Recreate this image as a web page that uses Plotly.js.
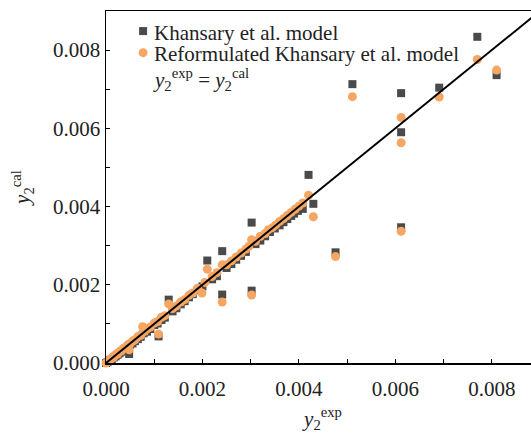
<!DOCTYPE html>
<html>
<head>
<meta charset="utf-8">
<script src="https://cdn.plot.ly/plotly-3.0.1.min.js"></script>
<style>
html, body { margin: 0; padding: 0; overflow: hidden; background: #fff; }
#chart { width: 540px; height: 442px; }
</style>
</head>
<body>
<div id="chart"></div>
<script>
// Khansary et al. model (squares): y2exp vs y2cal
const khansaryX = [
  0.00000, 0.00003, 0.00006, 0.00009, 0.00012, 0.00016, 0.00020, 0.00024, 0.00028, 0.00032,
  0.00036, 0.00040, 0.00045, 0.00048, 0.00050, 0.00055, 0.00060, 0.00066, 0.00072, 0.00078,
  0.00085, 0.00092, 0.00100, 0.00107, 0.00109, 0.00115, 0.00122, 0.00130, 0.00138, 0.00146,
  0.00155, 0.00163, 0.00172, 0.00180, 0.00190, 0.00200, 0.00210, 0.00220, 0.00230, 0.00241,
  0.00241, 0.00250, 0.00260, 0.00270, 0.00280, 0.00290, 0.00302, 0.00302, 0.00310, 0.00320,
  0.00330, 0.00340, 0.00350, 0.00360, 0.00368, 0.00376, 0.00384, 0.00390, 0.00398, 0.00408,
  0.00420, 0.00430, 0.00476, 0.00511, 0.00612, 0.00612, 0.00612, 0.00691, 0.00770, 0.00810
];
const khansaryY = [
  0.00000, 0.00002, 0.00005, 0.00008, 0.00010, 0.00014, 0.00017, 0.00021, 0.00025, 0.00029,
  0.00032, 0.00036, 0.00041, 0.00023, 0.00047, 0.00050, 0.00056, 0.00061, 0.00067, 0.00076,
  0.00080, 0.00087, 0.00097, 0.00101, 0.00068, 0.00110, 0.00116, 0.00162, 0.00132, 0.00140,
  0.00150, 0.00158, 0.00168, 0.00176, 0.00186, 0.00196, 0.00262, 0.00214, 0.00222, 0.00286,
  0.00175, 0.00243, 0.00253, 0.00264, 0.00274, 0.00284, 0.00359, 0.00185, 0.00304, 0.00313,
  0.00324, 0.00335, 0.00344, 0.00352, 0.00360, 0.00368, 0.00376, 0.00382, 0.00389, 0.00394,
  0.00481, 0.00407, 0.00283, 0.00713, 0.00690, 0.00590, 0.00347, 0.00704, 0.00834, 0.00736
];

// Reformulated Khansary et al. model (circles)
const reformX = [
  0.00000, 0.00003, 0.00006, 0.00009, 0.00012, 0.00016, 0.00020, 0.00024, 0.00028, 0.00032,
  0.00036, 0.00040, 0.00045, 0.00048, 0.00050, 0.00055, 0.00060, 0.00066, 0.00072, 0.00076,
  0.00080, 0.00086, 0.00092, 0.00100, 0.00107, 0.00109, 0.00115, 0.00122, 0.00130, 0.00138,
  0.00146, 0.00155, 0.00163, 0.00172, 0.00180, 0.00190, 0.00199, 0.00205, 0.00210, 0.00220,
  0.00230, 0.00241, 0.00241, 0.00250, 0.00260, 0.00270, 0.00280, 0.00290, 0.00296, 0.00302,
  0.00302, 0.00310, 0.00320, 0.00330, 0.00337, 0.00345, 0.00352, 0.00360, 0.00368, 0.00376,
  0.00384, 0.00392, 0.00400, 0.00408, 0.00420, 0.00430, 0.00476, 0.00511, 0.00612, 0.00612,
  0.00612, 0.00691, 0.00770, 0.00810
];
const reformY = [
  0.00000, 0.00003, 0.00005, 0.00010, 0.00012, 0.00015, 0.00021, 0.00023, 0.00029, 0.00031,
  0.00037, 0.00039, 0.00046, 0.00034, 0.00049, 0.00056, 0.00059, 0.00067, 0.00071, 0.00093,
  0.00081, 0.00088, 0.00092, 0.00102, 0.00106, 0.00074, 0.00117, 0.00121, 0.00151, 0.00139,
  0.00146, 0.00156, 0.00162, 0.00173, 0.00179, 0.00191, 0.00179, 0.00206, 0.00240, 0.00221,
  0.00231, 0.00251, 0.00156, 0.00251, 0.00261, 0.00271, 0.00281, 0.00291, 0.00298, 0.00315,
  0.00174, 0.00311, 0.00324, 0.00331, 0.00341, 0.00346, 0.00353, 0.00362, 0.00369, 0.00377,
  0.00385, 0.00393, 0.00401, 0.00409, 0.00429, 0.00374, 0.00272, 0.00681, 0.00628, 0.00563,
  0.00337, 0.00680, 0.00776, 0.00749
];

// parity line y2exp = y2cal
const parityX = [0, 0.009];
const parityY = [0, 0.009];

const seriesNames = ['Khansary et al. model', 'Reformulated Khansary et al. model',
  '<i>y</i><sub>2</sub><sup>exp</sup> = <i>y</i><sub>2</sub><sup>cal</sup>'];
const xTickVals = [0, 0.002, 0.004, 0.006, 0.008];
const xTickText = ['0.000', '0.002', '0.004', '0.006', '0.008'];
const yTickVals = [0, 0.002, 0.004, 0.006, 0.008];
const yTickText = ['0.000', '0.002', '0.004', '0.006', '0.008'];

const FONT = 'Liberation Serif';
const TXT = '#222222';
const SQ = '#4a4a4a';
const OR = '#f5a662';

const traces = [
  { x: khansaryX, y: khansaryY, mode: 'markers', type: 'scatter', name: seriesNames[0],
    marker: { symbol: 'square', size: 8, color: SQ }, cliponaxis: false, showlegend: false },
  { x: reformX, y: reformY, mode: 'markers', type: 'scatter', name: seriesNames[1],
    marker: { symbol: 'circle', size: 9, color: OR }, cliponaxis: false, showlegend: false },
  { x: parityX, y: parityY, mode: 'lines', type: 'scatter', name: seriesNames[2],
    line: { color: '#000', width: 2 }, cliponaxis: false, showlegend: false }
];

const axisCommon = {
  showgrid: false, zeroline: false, showline: true, linecolor: '#000', linewidth: 1.5,
  mirror: true, ticks: 'inside', ticklen: 4, tickwidth: 1.2, tickcolor: '#000',
  tickfont: { family: FONT, size: 21, color: TXT },
  minor: { dtick: 0.001, tick0: 0, ticks: 'inside', ticklen: 4, tickwidth: 1.2, tickcolor: '#000' }
};

const layout = {
  width: 540, height: 442,
  margin: { l: 106, r: 0, t: 11, b: 79 },
  paper_bgcolor: '#fff', plot_bgcolor: '#fff',
  font: { family: FONT, color: TXT },
  xaxis: Object.assign({}, axisCommon, {
    range: [0, 0.009], tickmode: 'array', tickvals: xTickVals, ticktext: xTickText,
    ticklabelstandoff: 6,
    title: { text: '<i>y</i><sub>2</sub><sup>exp</sup>', font: { family: FONT, size: 21, color: TXT }, standoff: 11 }
  }),
  yaxis: Object.assign({}, axisCommon, {
    range: [0, 0.009], tickmode: 'array', tickvals: yTickVals, ticktext: yTickText,
    title: { text: '<i>y</i><sub>2</sub><sup>cal</sup>', font: { family: FONT, size: 21, color: TXT }, standoff: 17 }
  }),
  shapes: [
    { type: 'rect', xref: 'paper', yref: 'paper', xsizemode: 'pixel', ysizemode: 'pixel',
      xanchor: 0.0855, yanchor: 0.943, x0: -4, x1: 4, y0: -4, y1: 4,
      fillcolor: SQ, line: { width: 0 } },
    { type: 'circle', xref: 'paper', yref: 'paper', xsizemode: 'pixel', ysizemode: 'pixel',
      xanchor: 0.0855, yanchor: 0.8816, x0: -4.5, x1: 4.5, y0: -4.5, y1: 4.5,
      fillcolor: OR, line: { width: 0 } }
  ],
  annotations: [
    { xref: 'paper', yref: 'paper', x: 0.1050, y: 0.938, xanchor: 'left', yanchor: 'middle', align: 'left',
      text: seriesNames[0], showarrow: false, font: { family: FONT, size: 21, color: TXT } },
    { xref: 'paper', yref: 'paper', x: 0.1050, y: 0.879, xanchor: 'left', yanchor: 'middle', align: 'left',
      text: seriesNames[1], showarrow: false, font: { family: FONT, size: 21, color: TXT } },
    { xref: 'paper', yref: 'paper', x: 0.1040, y: 0.806, xanchor: 'left', yanchor: 'middle', align: 'left',
      text: seriesNames[2], showarrow: false, font: { family: FONT, size: 21, color: TXT } }
  ]
};

Plotly.newPlot('chart', traces, layout, { displayModeBar: false, staticPlot: true });
</script>
</body>
</html>
